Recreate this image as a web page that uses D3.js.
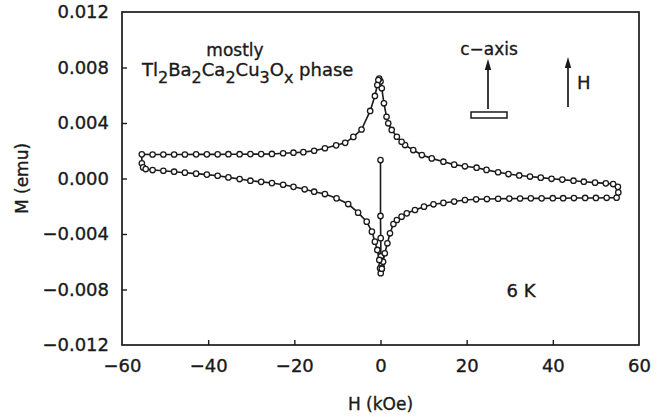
<!DOCTYPE html>
<html>
<head>
<meta charset="utf-8">
<script src="https://cdn.jsdelivr.net/npm/d3@7"></script>
<style>
  body { margin: 0; background: #fff; overflow: hidden; }
  svg { display: block; }
  svg text { font-family: "DejaVu Sans", sans-serif; fill: #1a1a1a; stroke: #1a1a1a; stroke-width: 0.35px; }
</style>
</head>
<body>
<div class="chart-container"></div>
<script>
// ticks
const xTicks = [-60, -40, -20, 0, 20, 40, 60];
const yTicks = [0.012, 0.008, 0.004, 0.000, -0.004, -0.008, -0.012];

// branches of the loop, H in kOe, M in emu
const virginH = [0.0, 0.0, 0.05, 0.1, 0.2];
const virginM = [0.00133, -0.0027, -0.0043, -0.0056, -0.0063];

const lowerRightH = [0.3, 0.6, 1.0, 1.6, 2.2, 3.0, 3.8, 4.9, 6.1, 8.0, 10.1, 12.3, 14.6, 17.1, 19.6, 22.2, 24.7, 27.3, 29.9, 32.4, 34.9, 37.4, 40.0, 42.4, 44.9, 47.5, 50.0, 52.5, 54.8];
const lowerRightM = [-0.0065, -0.0060, -0.00539, -0.00467, -0.00395, -0.00328, -0.00299, -0.00275, -0.00251, -0.00227, -0.00203, -0.00186, -0.00176, -0.00166, -0.00155, -0.0015, -0.00148, -0.00146, -0.00145, -0.00144, -0.00143, -0.00143, -0.00142, -0.00142, -0.00141, -0.0014, -0.0014, -0.00139, -0.00138];

const rightTurnH = [55.2, 55.1];
const rightTurnM = [-0.0010, -0.0006];

const upperRightH = [54.0, 52.3, 49.8, 47.2, 44.8, 42.2, 39.7, 37.2, 34.7, 32.2, 29.7, 27.3, 24.6, 22.3, 19.6, 17.1, 14.6, 11.9, 9.6, 7.6, 5.7, 4.9, 3.8, 2.6, 1.8, 1.4, 0.8, 0.3, 0.0, -0.3, -0.5];
const upperRightM = [-0.0004, -0.00035, -0.0003, -0.00023, -0.00016, -0.00008, -0.00002, 0.00006, 0.00014, 0.00022, 0.00032, 0.00045, 0.00062, 0.00078, 0.00088, 0.001, 0.00121, 0.00145, 0.00169, 0.00205, 0.00241, 0.00265, 0.00301, 0.0035, 0.00398, 0.00445, 0.00542, 0.0065, 0.0070, 0.0072, 0.0071];

const upperLeftH = [-0.74, -1.3, -2.4, -4.4, -6.3, -8.2, -10.3, -12.9, -15.4, -17.9, -20.2, -22.6, -25.2, -27.7, -30.2, -32.7, -35.3, -37.8, -40.3, -42.8, -45.4, -47.9, -50.4, -52.9, -55.4];
const upperLeftM = [0.00674, 0.00595, 0.00487, 0.00353, 0.0030, 0.00257, 0.00239, 0.00218, 0.0020, 0.0019, 0.00186, 0.00182, 0.00177, 0.00176, 0.00176, 0.00175, 0.00175, 0.00174, 0.00174, 0.00174, 0.00173, 0.00173, 0.00173, 0.00173, 0.00174];

const lowerLeftH = [-55.4, -55.1, -54.5, -52.9, -50.4, -47.9, -45.4, -42.8, -40.3, -37.8, -35.3, -32.7, -30.2, -27.7, -25.2, -22.6, -20.2, -17.6, -15.4, -12.9, -10.2, -7.5, -5.2, -3.2, -2.0, -1.3, -0.74, -0.28, -0.1, 0.05, 0.3];
const lowerLeftM = [0.0011, 0.0008, 0.00068, 0.00061, 0.00056, 0.00049, 0.00042, 0.00035, 0.00028, 0.0002, 0.00008, -0.00004, -0.00016, -0.00024, -0.00033, -0.00045, -0.0006, -0.00078, -0.00095, -0.00112, -0.00143, -0.00184, -0.00246, -0.00311, -0.00383, -0.00455, -0.00515, -0.00587, -0.00647, -0.00683, -0.0065];

// formule : [texte, indice ?]
const formulaParts = [['Tl', false], ['2', true], ['Ba', false], ['2', true], ['Ca', false], ['2', true],
                      ['Cu', false], ['3', true], ['O', false], ['x', true], ['\u00a0phase', false]];

const width = 662, height = 420;
const margin = { top: 12, right: 23, bottom: 75, left: 122 };
const innerWidth = width - margin.left - margin.right;
const innerHeight = height - margin.top - margin.bottom;

const svg = d3.select('.chart-container')
    .append('svg')
    .attr('width', width)
    .attr('height', height);

const g = svg.append('g')
    .attr('transform', `translate(${margin.left},${margin.top})`);

const xScale = d3.scaleLinear().domain([-60, 60]).range([0, innerWidth]);
const yScale = d3.scaleLinear().domain([-0.012, 0.012]).range([innerHeight, 0]);

const ink = '#1a1a1a';

// cadre
g.append('rect')
    .attr('width', innerWidth)
    .attr('height', innerHeight)
    .attr('fill', 'none')
    .attr('stroke', ink)
    .attr('stroke-width', 1.7);

// axes avec ticks vers l'interieur
const xAxis = g.append('g')
    .attr('transform', `translate(0,${innerHeight})`)
    .call(d3.axisBottom(xScale).tickValues(xTicks).tickSize(-5).tickPadding(14).tickFormat(d3.format('d')));
const yAxis = g.append('g')
    .call(d3.axisLeft(yScale).tickValues(yTicks).tickSize(-5).tickPadding(13).tickFormat(d3.format('.3f')));

[xAxis, yAxis].forEach(ax => {
    ax.select('.domain').remove();
    ax.selectAll('line').attr('stroke', ink).attr('stroke-width', 1.4);
    ax.selectAll('text').attr('font-size', 18).attr('fill', ink);
});
// pas de tick aux extremites
xAxis.selectAll('.tick').filter(d => Math.abs(d) === 60).select('line').remove();
yAxis.selectAll('.tick').filter(d => Math.abs(d) === 0.012).select('line').remove();

// labels des axes
svg.append('text')
    .attr('x', margin.left + xScale(0))
    .attr('y', 410)
    .attr('text-anchor', 'middle')
    .attr('font-size', 17)
    .text('H (kOe)');

svg.append('text')
    .attr('transform', `translate(28,${margin.top + yScale(0)}) rotate(-90)`)
    .attr('text-anchor', 'middle')
    .attr('font-size', 17)
    .text('M (emu)');

// courbe
const toPts = (hs, ms) => hs.map((h, i) => ({ h: h, m: ms[i] }));
const loop = [].concat(
    toPts(virginH, virginM),
    toPts(lowerRightH, lowerRightM),
    toPts(rightTurnH, rightTurnM),
    toPts(upperRightH, upperRightM),
    toPts(upperLeftH, upperLeftM),
    toPts(lowerLeftH, lowerLeftM)
);

const line = d3.line()
    .x(d => xScale(d.h))
    .y(d => yScale(d.m));

g.append('path')
    .datum(loop)
    .attr('d', line)
    .attr('fill', 'none')
    .attr('stroke', ink)
    .attr('stroke-width', 1.6);

g.selectAll('.pt')
    .data(loop)
    .enter()
    .append('circle')
    .attr('class', 'pt')
    .attr('cx', d => xScale(d.h))
    .attr('cy', d => yScale(d.m))
    .attr('r', 2.7)
    .attr('fill', '#fff')
    .attr('stroke', ink)
    .attr('stroke-width', 1.3);

// annotations
svg.append('text')
    .attr('x', 235)
    .attr('y', 56)
    .attr('text-anchor', 'middle')
    .attr('font-size', 17)
    .text('mostly');

// formule : un seul texte, indices en baseline-shift
const formula = svg.append('text')
    .attr('x', 142)
    .attr('y', 76)
    .attr('font-size', 18);
formulaParts.forEach(([t, sub]) => {
    const ts = formula.append('tspan').text(t);
    if (sub) ts.attr('font-size', 16).attr('baseline-shift', '-7');
});

svg.append('text')
    .attr('x', 489)
    .attr('y', 55)
    .attr('text-anchor', 'middle')
    .attr('font-size', 17)
    .text('c\u2212axis');

// fleches
const arrow = (x, y1, y2) => {
    svg.append('line')
        .attr('x1', x).attr('x2', x)
        .attr('y1', y1).attr('y2', y2 + 8)
        .attr('stroke', ink).attr('stroke-width', 1.7);
    svg.append('path')
        .attr('d', `M${x},${y2} L${x - 3.2},${y2 + 11} L${x + 3.2},${y2 + 11} Z`)
        .attr('fill', ink);
};
arrow(488, 109, 59);
arrow(568, 107, 57);

svg.append('rect')
    .attr('x', 471).attr('y', 112)
    .attr('width', 36).attr('height', 6)
    .attr('fill', '#fff')
    .attr('stroke', ink)
    .attr('stroke-width', 1.5);

svg.append('text')
    .attr('x', 577)
    .attr('y', 89)
    .attr('font-size', 18)
    .text('H');

svg.append('text')
    .attr('x', 521)
    .attr('y', 297)
    .attr('text-anchor', 'middle')
    .attr('font-size', 18)
    .text('6 K');
</script>
</body>
</html>
